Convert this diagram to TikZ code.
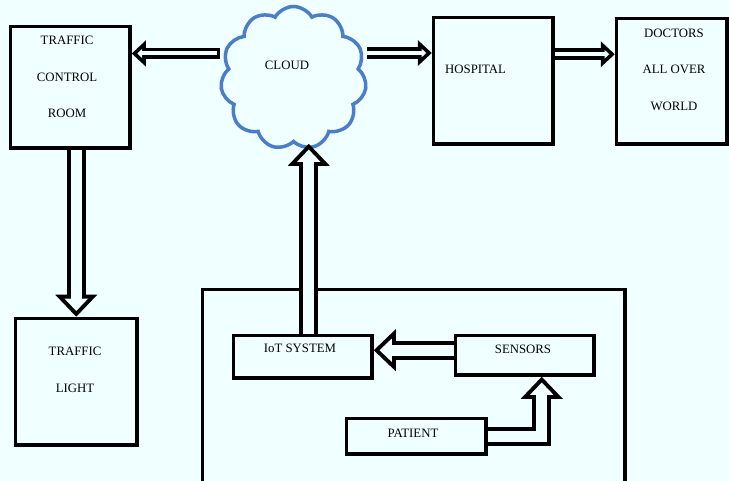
\documentclass[tikz,border=0pt]{standalone}
\usepackage{fontspec}
\setmainfont{Liberation Serif}
\usepackage{xcolor}
\usepackage{tikz}
\usetikzlibrary{shapes,shapes.symbols,arrows.meta,calc,positioning}
\definecolor{bgc}{RGB}{240,255,255}
\definecolor{cloudblue}{RGB}{74,126,200}
\tikzset{
  box/.style={draw, line width=3.5pt, inner sep=0pt, anchor=north west, fill=bgc},
  txt/.style={font=\fontsize{12.8}{36.5}\selectfont, align=center, inner sep=0pt},
  slim/.style={line width=11.5pt, line join=miter, -{Triangle[length=14pt,width=26pt,line width=0pt]},
    postaction={draw=bgc, line width=4pt, shorten <=#1, shorten >=5.5pt,
      -{Triangle[length=4.75pt,width=8.8pt,line width=0pt]}}},
  slim/.default=0pt,
  fat/.style={line width=19pt, line join=miter, -{Triangle[length=22pt,width=42pt,line width=0pt]},
    postaction={draw=bgc, line width=11pt, shorten <=#1, shorten >=5.8pt,
      -{Triangle[length=12.2pt,width=23.3pt,line width=0pt]}}},
  fat/.default=0pt
}
\begin{document}
\begin{tikzpicture}[x=1pt,y=-1pt]
  \useasboundingbox[fill=bgc] (0,0) rectangle (729,481);
  % boxes
  \node[box, minimum width=119.5, minimum height=121.5] (tcr) at (8.75,24.75) {};
  \node[box, minimum width=121.5, minimum height=126.5] (light) at (13.75,316.75) {};
  \node[box, minimum width=119.5, minimum height=126.5] (hosp) at (431.75,15.75) {};
  \node[box, minimum width=110.5, minimum height=125.5] (doc) at (614.75,16.75) {};
  \node[box, minimum width=422.5, minimum height=220] (sys) at (200.75,287.75) {};
  \node[box, minimum width=138.5, minimum height=42.5] (iot) at (231.75,333.75) {};
  \node[box, minimum width=138.5, minimum height=39.5] (sens) at (453.75,333.75) {};
  \node[box, minimum width=139.5, minimum height=35.5] (pat) at (344.75,416.75) {};
  \node[cloud, cloud puffs=11, cloud puff arc=120, aspect=1, draw=cloudblue, line width=3.5pt,
    fill=bgc, minimum width=146, minimum height=143] (cloud) at (293.5,78) {};
  % arrows
  \draw[slim=3.75pt] ([yshift=24.5pt]cloud.west) -- ([yshift=24.5pt]cloud.west -| tcr.east);
  \draw[slim] ([yshift=25pt]cloud.east) -- ([yshift=25pt]cloud.east -| hosp.west);
  \draw[slim] ([yshift=26.5pt]hosp.east) -- ([yshift=26.5pt]hosp.east -| doc.west);
  \draw[fat] (light.north |- tcr.south) -- (light.north);
  \draw[fat] ([xshift=6pt]iot.north) -- ([xshift=6pt]iot.north |- cloud.south);
  \draw[fat] ([yshift=5pt]sens.west) -- ([yshift=5pt]sens.west -| iot.east);
  \draw[fat] (pat.east) -| ([xshift=17pt]sens.south);
  % texts
  \node[txt] (tcrtext) at (67,77) {TRAFFIC\\CONTROL\\ROOM};
  \node[txt] (lighttext) at (75,370) {TRAFFIC\\LIGHT};
  \node[txt] (cloudtext) at (287,65) {CLOUD};
  \node[txt, anchor=west] (hosptext) at (445,69) {HOSPITAL};
  \node[txt] (doctext) at (674,69.5) {DOCTORS\\ALL OVER\\WORLD};
  \node[txt] (iottext) at (300,348) {IoT SYSTEM};
  \node[txt] (senstext) at (523,349) {SENSORS};
  \node[txt] (pattext) at (413,433) {PATIENT};
\end{tikzpicture}
\end{document}
